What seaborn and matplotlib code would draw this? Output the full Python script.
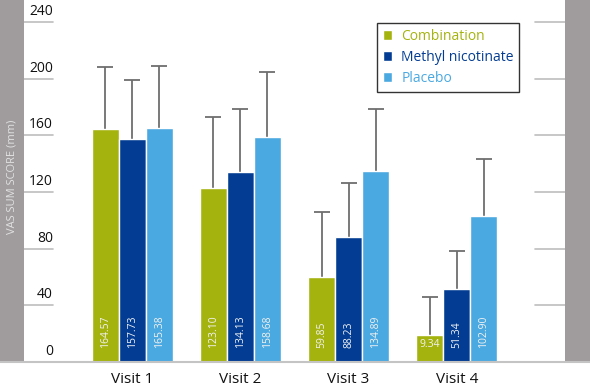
import pandas as pd
import matplotlib
matplotlib.use("Agg")
import matplotlib.pyplot as plt
from matplotlib.lines import Line2D
from matplotlib.patches import Rectangle
import seaborn as sns

# Data
visits = ["Visit 1", "Visit 2", "Visit 3", "Visit 4"]
groups = ["Combination", "Methyl nicotinate", "Placebo"]

# printed values inside the bars
combination_label = [164.57, 123.10, 59.85, 9.34]
methyl_label = [157.73, 134.13, 88.23, 51.34]
placebo_label = [165.38, 158.68, 134.89, 102.90]

# bar heights as drawn (the visit 4 combination bar is drawn taller than its label)
combination = [164.57, 123.10, 59.85, 19.4]
methyl = [157.73, 134.13, 88.23, 51.34]
placebo = [165.38, 158.68, 134.89, 102.90]

# upper error bars (length above the bar)
combination_err = [43.8, 50.0, 45.8, 26.8]
methyl_err = [41.1, 44.6, 38.3, 26.7]
placebo_err = [43.7, 46.2, 43.8, 40.5]

yticks = [0, 40, 80, 120, 160, 200, 240]
colors = ["#a5b30f", "#033d93", "#4ba9e1"]

df = pd.DataFrame({
    "Visit": visits * 3,
    "Group": [g for g in groups for _ in visits],
    "Score": combination + methyl + placebo,
    "Label": combination_label + methyl_label + placebo_label,
    "Err": combination_err + methyl_err + placebo_err,
})

sns.set_style("white")
plt.rcParams["font.family"] = ["Open Sans", "DejaVu Sans"]

W, H = 590, 386
fig = plt.figure(figsize=(W / 100, H / 100), dpi=100)
ax = fig.add_axes([24 / W, 24 / H, 541 / W, 362 / H])

sns.barplot(data=df, x="Visit", y="Score", hue="Group", palette=colors,
            width=0.75, errorbar=None, saturation=1, ax=ax, zorder=2)

ax.set_xlim(-1.0, 4.0)
ax.set_ylim(0, 255.5)
for s in ax.spines.values():
    s.set_visible(False)
ax.set_yticks([])
ax.set_xlabel("")
ax.set_ylabel("")
ax.tick_params(axis="x", length=0, pad=7, labelsize=11, labelcolor="#111111")

# error bars (upper only) and value labels
for cont, grp in zip(ax.containers, groups):
    sub = df[df["Group"] == grp]
    xs = [p.get_x() + p.get_width() / 2 for p in cont.patches]
    hs = [p.get_height() for p in cont.patches]
    eb = ax.errorbar(xs, hs, yerr=[[0] * len(hs), list(sub["Err"])], fmt="none",
                     ecolor="#6e6e6e", elinewidth=1.3, capsize=6, capthick=1.3,
                     zorder=1)
    eb[1][0].set_visible(False)  # hide the cap sitting on the bar top
    for x, h, lab in zip(xs, hs, sub["Label"]):
        if h < 30:
            ax.text(x, 12.5, f"{lab:.2f}", ha="center", va="center",
                    color="#f2f2f2", fontsize=7.5, zorder=3)
        else:
            ax.text(x, 9.9, f"{lab:.2f}", ha="center", va="bottom", rotation=90,
                    color="#f2f2f2", fontsize=7.5, zorder=3)

# short grid marks and tick labels
trans = ax.get_yaxis_transform()
for t in yticks[1:]:
    ax.plot([0, 29 / 541], [t, t], color="#bdbdbd", lw=1.2, transform=trans, clip_on=False)
    ax.plot([1 - 30 / 541, 1], [t, t], color="#bdbdbd", lw=1.2, transform=trans, clip_on=False)
for t in yticks:
    ax.text(29 / 541, t + 2, str(t), transform=trans, ha="right", va="bottom",
            fontsize=10, color="#111111")

# gray side bands
fig.patches.append(Rectangle((0, 24 / H), 24 / W, 1 - 24 / H, transform=fig.transFigure,
                             facecolor="#a09c9d", edgecolor="none", zorder=0))
fig.patches.append(Rectangle((565 / W, 24 / H), 1 - 565 / W, 1 - 24 / H,
                             transform=fig.transFigure, facecolor="#a09c9d",
                             edgecolor="none", zorder=0))
fig.add_artist(Line2D([0, 1], [24 / H, 24 / H], color="#c4c4c4", lw=1.5,
                      transform=fig.transFigure))
fig.text(12 / W, 1 - 177 / H, "VAS SUM SCORE (mm)", rotation=90, ha="center",
         va="center", color="#e2e2e2", fontsize=8)

# legend
handles, labels = ax.get_legend_handles_labels()
if ax.legend_:
    ax.legend_.remove()
leg = fig.legend(handles, labels, loc="upper left",
                 bbox_to_anchor=(377 / W, 1 - 23 / H), borderaxespad=0,
                 fontsize=10, handlelength=0.7, handleheight=0.7,
                 handletextpad=0.65, labelspacing=0.45, fancybox=False,
                 frameon=True, edgecolor="#333333", framealpha=1)
leg.get_frame().set_linewidth(1.0)
for txt, c in zip(leg.get_texts(), colors):
    txt.set_color(c)

fig.savefig("out.png", dpi=100)
